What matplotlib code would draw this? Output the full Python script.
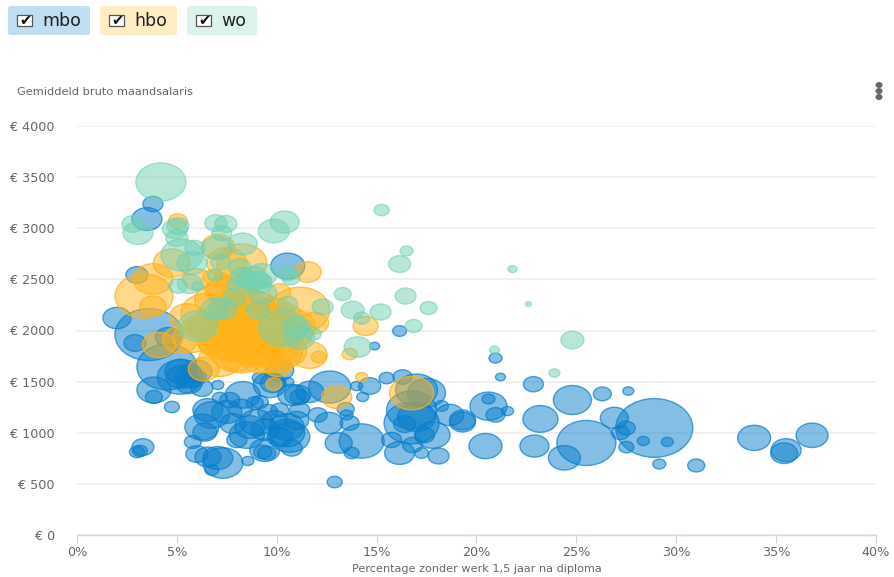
import matplotlib
matplotlib.use("Agg")
import matplotlib.pyplot as plt
from matplotlib.markers import MarkerStyle
from matplotlib.patches import FancyBboxPatch, Rectangle, Ellipse
from matplotlib.path import Path
from matplotlib.transforms import Affine2D
import numpy as np

plt.rcParams['font.family'] = ['DejaVu Sans']

W, H = 894, 577
# (percentage without work, salary, bubble width in px)
mbo = [(28.9,1047,77),(25.5,900,59),(24.4,755,32),(24.8,1320,38),(23.2,1135,35),(22.9,870,29),
(26.9,1145,28),(26.3,1380,18),(27.6,1408,11),(27.5,1045,18),(27.2,1000,18),(27.5,860,15),
(28.35,920,12),(29.55,910,12),(29.15,694,13),(31,680,17),(33.9,950,33),(35.5,830,30),(35.4,800,27),
(36.8,975,32),(20.6,1260,37),(20.6,1330,13),(20.95,1175,19),(21.55,1212,12),(20.45,870,33),
(22.85,1475,20),(21.2,1545,10),(20.95,1730,13),(16.15,1995,14),(14.9,1848,10),(15.5,1535,15),
(16.3,1545,19),(17,1418,42),(17.5,1390,38),(16.75,1222,50),(16.75,1095,55),(17,1154,38),(16.4,1085,22),
(17.8,978,35),(17.4,978,20),(18.65,1174,28),(19.3,1105,26),(19.3,1125,26),(18.25,1262,14),(15.75,930,20),
(16.15,802,30),(16.8,880,20),(17.25,802,14),(18.1,773,21),(14.25,919,45),(13.1,900,27),(13.75,802,15),
(12.9,518,15),(12.65,1447,42),(14.65,1457,22),(14,1457,12),(14.3,1350,12),(13.45,1232,17),(13.5,1174,13),
(13.65,1095,19),(12.6,1095,28),(12.05,1174,19),(11.15,1350,19),(11.65,1400,28),(11.05,1370,26),(10.75,1370,28),
(11.15,1222,20),(10.5,1056,35),(10.5,998,36),(10.65,958,40),(10.75,850,21),(10.15,958,25),(9.4,831,30),
(9.3,812,18),(9.5,802,18),(8.5,978,35),(8.65,1056,30),(8,929,20),(8.55,724,12),(7.3,704,40),(7.05,753,30),
(6.75,636,14),(6.55,763,26),(6,792,22),(5.8,910,17),(6.25,1056,34),(6.4,1007,24),(6.75,1174,35),(6.55,1222,30),
(7.5,1203,30),(7.65,1320,20),(7.15,1340,15),(8.3,1370,35),(8.9,1290,17),(9.15,1300,17),(9.55,1203,20),
(10.15,1222,18),(9.65,1467,33),(9.8,1486,25),(9.15,1535,15),(10.15,1614,28),(10.55,1496,12),(7.05,1467,12),
(6.25,1437,22),(5.15,1545,45),(5.2,1545,30),(4.5,1643,60),(3.6,1960,68),(2.9,1878,22),(2.0,2122,28),
(3.85,1418,34),(3.85,1350,17),(4.75,1252,15),(3.3,860,22),(3,812,15),(3.15,822,15),(3.8,3237,20),(3.5,3090,30),
(3,2543,22),(10.55,2630,34),(4.55,1936,25),(9.45,2269,12),(5.2,1600,32),(5.6,1480,26),
(9.0,1100,34),(9.4,1030,28),(7.8,1090,26),(8.2,1240,24),(11.0,1120,24),(9.9,1120,26),(6.0,1600,30),(5.7,1550,30)]

hbo = [(3.35,2337,58),(3.8,2504,40),(4.75,2660,37),(5.05,3070,19),(3.8,2240,26),(5.5,2132,35),(7.05,2817,33),
(8.25,2660,50),(7.5,2660,40),(11.55,2572,27),(11.15,2200,60),(11.9,2073,28),(14.45,2044,25),(12.1,1740,15),
(11.65,1760,35),(13.65,1770,15),(14.25,1545,12),(13,1350,30),(9.85,1476,16),(6.35,1623,31),(4.1,1858,33),
(7.15,1711,43),(8,1711,30),(6.8,1810,15),(10.05,1662,30),(16.75,1388,44),(6.5,2171,52),(7.3,2132,40),
(8.5,2005,70),(9.5,1907,70),(8,1936,65),(6.8,2523,20),(7.25,2494,18),(7.15,2396,30),(10.15,2376,22),
(5.8,1936,40),(8.5,2328,30),(10.8,2034,45),(9.8,1810,60),(8.15,1810,60),(6.8,1878,30),(8.9,2200,50),
(5.15,1907,35),(8.5,2005,60),(9,2100,55),(7.8,2050,50),(9.3,1980,55),(8.7,1850,50),(7.6,2250,35),(9.6,2100,40),
(10.2,1950,45),(8.8,2050,45),(8.2,2130,40),(7,2000,45),(10.4,2120,38),(6.1,2030,30),(6,2500,28),
(7.4,2400,36),(8.1,2400,34),(6.9,2300,40),(7.3,1900,50),(10.4,1800,44),(9.2,1750,44),(8.6,2200,55),(6.6,2050,40),
(9.8,2150,45),(11.0,1950,30)]

wo = [(4.2,3452,50),(2.8,3042,22),(3.05,2954,30),(5.05,3022,22),(4.9,2993,25),(5,2905,22),(5.25,2738,42),
(5.9,2807,20),(5.05,2435,19),(5.65,2455,25),(6.05,2435,12),(5.75,2660,30),(6.95,3051,22),(7.45,3042,22),
(7.25,2954,20),(8.3,2846,29),(7,2807,30),(9.85,2973,31),(10.4,3061,29),(7.2,2670,20),(8.15,2621,22),
(9.25,2543,30),(8.8,2514,30),(8.3,2523,25),(8.4,2494,22),(9,2465,30),(9.25,2484,20),(6.9,2543,15),(10.55,2562,20),
(10.7,2514,18),(9.3,2367,28),(7.9,2328,23),(7.8,2445,12),(9.05,2200,23),(10.55,2259,20),(6.9,2210,28),(7.3,2210,28),
(6.05,2044,40),(10.3,2024,48),(11,2034,28),(11.15,1927,30),(11.8,1966,17),(12.3,2230,21),(13.3,2357,17),(13.8,2200,23),
(14.25,2122,16),(14.05,1838,27),(15.25,3178,15),(16.5,2778,13),(16.15,2650,22),(21.8,2601,9),(16.45,2337,21),
(17.6,2220,17),(22.6,2259,6),(15.2,2181,21),(16.85,2044,17),(24.8,1907,23),(20.9,1809,10),(23.9,1584,11)]

series_names = ["mbo", "hbo", "wo"]
series_colors = ["#0a7fcc", "#ffb31a", "#72d1b4"]
chip_colors = ["#bfdef2", "#ffedc6", "#dcf3ec"]
y_ticks = [0, 500, 1000, 1500, 2000, 2500, 3000, 3500, 4000]
y_labels = ["€ 0", "€ 500", "€ 1000", "€ 1500", "€ 2000", "€ 2500", "€ 3000", "€ 3500", "€ 4000"]
x_ticks = [0, 5, 10, 15, 20, 25, 30, 35, 40]
x_labels = ["0%", "5%", "10%", "15%", "20%", "25%", "30%", "35%", "40%"]
x_title = "Percentage zonder werk 1,5 jaar na diploma"
y_title = "Gemiddeld bruto maandsalaris"

fig = plt.figure(figsize=(W/100, H/100), dpi=100, facecolor="white")
ax = fig.add_axes([77/W, 1-535/H, (876-77)/W, (535-126)/H])
ax.set_xlim(0, 40)
ax.set_ylim(0, 4000)
for s in ("top", "right", "left"):
    ax.spines[s].set_visible(False)
ax.spines["bottom"].set_color("#ccd6eb")
ax.spines["bottom"].set_linewidth(1.0)
ax.set_yticks(y_ticks, y_labels)
ax.set_xticks(x_ticks, x_labels)
ax.tick_params(axis="y", length=0, pad=16, labelsize=9.2, labelcolor="#666666")
ax.tick_params(axis="x", length=6, width=0.8, color="#ccd6eb", pad=2, labelsize=9.2, labelcolor="#666666")
ax.grid(axis="y", color="#ececec", linewidth=1.1)
ax.set_axisbelow(True)

# bubbles are stretched wider than tall in the reference
ell = MarkerStyle(Path.unit_circle().transformed(Affine2D().scale(1.0, 1/1.31)))
edge_alpha = [0.7, 0.75, 0.6]
for data, c, ea in zip((mbo, hbo, wo), series_colors, edge_alpha):
    x, y, w = np.array(data).T
    rgb = matplotlib.colors.to_rgb(c)
    ax.scatter(x, y, s=(w*0.72)**2, marker=ell, facecolors=[(*rgb, 0.5)],
               edgecolors=[(*rgb, ea)], linewidths=1.0, clip_on=False)

fig.text(477/W, 1-569/H, x_title, ha="center", va="center", fontsize=8.15, color="#666666")
fig.text(17/W, 1-92/H, y_title, ha="left", va="center", fontsize=8.2, color="#666666")

# legend chips with checkboxes
chips = [(8, 82), (100, 77), (187, 70)]
for (x0, w0), name, col in zip(chips, series_names, chip_colors):
    fig.add_artist(FancyBboxPatch((x0/W, 1-35/H), w0/W, 29/H, boxstyle="round,pad=0,rounding_size=0.004",
                                  transform=fig.transFigure, fc=col, ec="none"))
    bx0 = x0 + 9
    fig.add_artist(Rectangle((bx0/W, 1-26/H), 15/W, 11/H, transform=fig.transFigure,
                             fc="white", ec="#555555", lw=0.9))
    fig.text((bx0+8)/W, 1-20/H, "✔", ha="center", va="center", fontsize=10.5, color="#111111")
    fig.text((bx0+25)/W, 1-21/H, name, ha="left", va="center", fontsize=12.5, color="#222222")

# context menu dots
for py in (85, 91, 97):
    fig.add_artist(Ellipse((879/W, 1-py/H), 7/W, 6/H, transform=fig.transFigure, fc="#666666", ec="none"))

fig.savefig("out.png", dpi=100)
